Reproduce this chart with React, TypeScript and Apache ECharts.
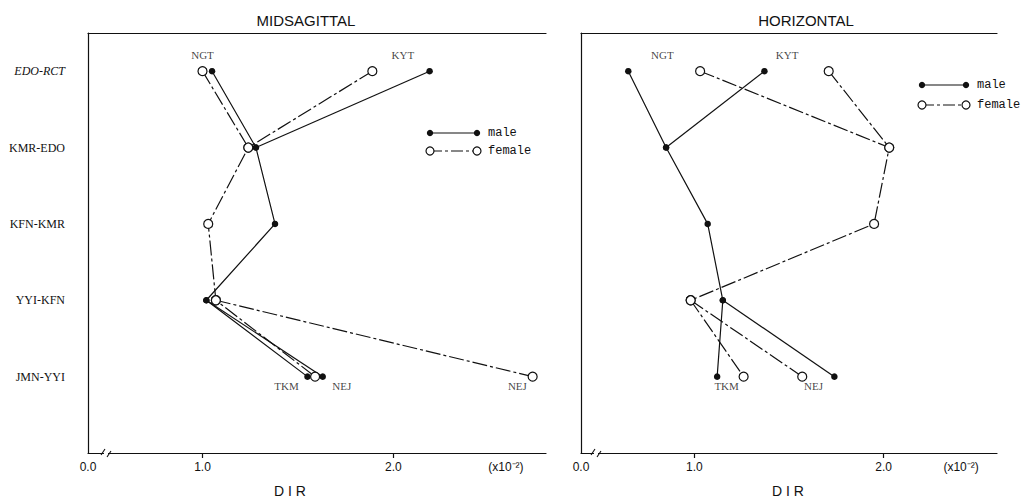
import React, { useEffect, useRef } from "react";
import * as echarts from "echarts";

// Rows (top to bottom) and site groups
const rows = ["EDO-RCT", "KMR-EDO", "KFN-KMR", "YYI-KFN", "JMN-YYI"];
const topSites = ["NGT", "KYT"]; // at EDO-RCT
const bottomSites = ["TKM", "NEJ"]; // at JMN-YYI
const xTicks = [1.0, 2.0];

// MIDSAGITTAL (DIR x10^-2)
const midMaleTop = [1.05, 2.19];
const midMaleCore = [1.28, 1.38, 1.02]; // KMR-EDO, KFN-KMR, YYI-KFN
const midMaleBottom = [1.55, 1.63];
const midFemaleTop = [1.0, 1.89];
const midFemaleCore = [1.24, 1.03, 1.07];
const midFemaleBottom = [1.59, 2.73];

// HORIZONTAL (DIR x10^-2)
const horMaleTop = [0.65, 1.37];
const horMaleCore = [0.85, 1.07, 1.15];
const horMaleBottom = [1.12, 1.74];
const horFemaleTop = [1.03, 1.71];
const horFemaleCore = [2.03, 1.95, 0.98];
const horFemaleBottom = [1.26, 1.57];

const rowY = (i: number) => rows.length - i;

function buildPaths(top: number[], core: number[], bottom: number[]) {
  const corePts = core.map((v, k) => [v, rowY(k + 1)]);
  return [
    [[top[0], rowY(0)], ...corePts, [bottom[0], rowY(4)]],
    [[top[1], rowY(0)], corePts[0]],
    [corePts[corePts.length - 1], [bottom[1], rowY(4)]],
  ];
}

const BLACK = "#111";
const FEMALE_DASH = [15, 3, 3, 3];

function sexSeries(paths: number[][][], female: boolean, axis: number) {
  return paths.map((p) => ({
    type: "line",
    xAxisIndex: axis * 2,
    yAxisIndex: axis,
    data: p,
    symbol: "circle",
    symbolSize: female ? 9 : 6.5,
    showSymbol: true,
    z: female ? 4 : 3,
    itemStyle: female
      ? { color: "#fff", borderColor: BLACK, borderWidth: 1.2 }
      : { color: BLACK, borderColor: BLACK, borderWidth: 0 },
    lineStyle: {
      color: BLACK,
      width: 1.2,
      type: female ? FEMALE_DASH : "solid",
    },
    emphasis: { disabled: true },
  }));
}

// site-label anchors (annotation placement, in axis units)
const topLabelY = 5.21;
const bottomLabelY = 0.88;
const midLabelX = { NGT: 1.0, KYT: 2.05, TKM: 1.44, NEJ: 1.73, NEJ2: 2.65 };
const horLabelX = { NGT: 0.83, KYT: 1.49, TKM: 1.17, NEJ: 1.63 };

function labelSeries(items: { name: string; value: number[] }[], axis: number) {
  return {
    type: "scatter",
    xAxisIndex: axis * 2,
    yAxisIndex: axis,
    symbolSize: 0,
    z: 6,
    data: items,
    label: {
      show: true,
      position: "inside",
      formatter: "{b}",
      color: BLACK,
      fontFamily: "Liberation Serif",
      fontSize: 11,
    },
    emphasis: { disabled: true },
  };
}

const UNIT = "(x10\u207B\u00B2)";

function xAxes(gridIndex: number, max: number, unitAt: number) {
  return [
    {
      type: "value",
      gridIndex,
      min: 0.4,
      max,
      axisLine: { show: true, onZero: false, lineStyle: { color: BLACK, width: 1.2 } },
      axisTick: { show: true, customValues: xTicks, length: 5, lineStyle: { color: BLACK, width: 1.2 } },
      axisLabel: {
        show: true,
        customValues: [0.4, ...xTicks, unitAt],
        formatter: (v: number) => (v < 0.9 ? "0.0" : v > 2.3 ? UNIT : v.toFixed(1)),
        color: BLACK,
        fontFamily: "Liberation Sans",
        fontSize: 12,
        margin: 8,
      },
      splitLine: { show: false },
    },
    {
      type: "value",
      gridIndex,
      position: "top",
      min: 0.4,
      max,
      axisLine: { show: true, onZero: false, lineStyle: { color: BLACK, width: 1.2 } },
      axisTick: { show: false },
      axisLabel: { show: false },
      splitLine: { show: false },
    },
  ];
}

function yAxis(gridIndex: number, withLabels: boolean) {
  return {
    type: "value",
    gridIndex,
    min: 0,
    max: 5.5,
    axisLine: { show: true, onZero: false, lineStyle: { color: BLACK, width: 1.2 } },
    axisTick: { show: false },
    splitLine: { show: false },
    axisLabel: withLabels
      ? {
          show: true,
          customValues: rows.map((_, i) => rowY(i)),
          formatter: (v: number) => {
            const name = rows[rows.length - Math.round(v)];
            return name === "EDO-RCT" ? `{it|${name}}` : name;
          },
          rich: { it: { fontStyle: "italic", fontFamily: "Liberation Serif", fontSize: 12, color: BLACK } },
          color: BLACK,
          fontFamily: "Liberation Serif",
          fontSize: 12,
          margin: 23,
        }
      : { show: false },
  };
}

function legendGraphic(x1: number, x2: number, yMale: number, yFemale: number, textX: number) {
  return [
    { type: "line", z: 10, shape: { x1, y1: yMale, x2, y2: yMale }, style: { stroke: BLACK, lineWidth: 1.2 } },
    { type: "circle", z: 11, shape: { cx: x1, cy: yMale, r: 3.2 }, style: { fill: BLACK } },
    { type: "circle", z: 11, shape: { cx: x2, cy: yMale, r: 3.2 }, style: { fill: BLACK } },
    {
      type: "line",
      z: 10,
      shape: { x1, y1: yFemale, x2, y2: yFemale },
      style: { stroke: BLACK, lineWidth: 1.2, lineDash: [12, 3, 3, 3] },
    },
    { type: "circle", z: 11, shape: { cx: x1, cy: yFemale, r: 4 }, style: { fill: "#fff", stroke: BLACK, lineWidth: 1.2 } },
    { type: "circle", z: 11, shape: { cx: x2, cy: yFemale, r: 4 }, style: { fill: "#fff", stroke: BLACK, lineWidth: 1.2 } },
    {
      type: "text",
      z: 11,
      x: textX,
      y: yMale,
      style: { text: "male", fill: BLACK, fontFamily: "Liberation Mono", fontSize: 12, textAlign: "left", textVerticalAlign: "middle" },
    },
    {
      type: "text",
      z: 11,
      x: textX,
      y: yFemale,
      style: { text: "female", fill: BLACK, fontFamily: "Liberation Mono", fontSize: 12, textAlign: "left", textVerticalAlign: "middle" },
    },
  ];
}

function breakGraphic(xGap: number, yAxisLine: number) {
  return [
    { type: "rect", z: 20, shape: { x: xGap, y: yAxisLine - 3, width: 4, height: 6 }, style: { fill: "#fff" } },
    {
      type: "line",
      z: 21,
      shape: { x1: xGap - 3, y1: yAxisLine + 2, x2: xGap + 1, y2: yAxisLine - 4 },
      style: { stroke: BLACK, lineWidth: 1.1 },
    },
    {
      type: "line",
      z: 21,
      shape: { x1: xGap + 3, y1: yAxisLine + 4, x2: xGap + 7, y2: yAxisLine - 2 },
      style: { stroke: BLACK, lineWidth: 1.1 },
    },
  ];
}

function textG(text: string, x: number, y: number, size: number, family: string) {
  return {
    type: "text",
    z: 11,
    x,
    y,
    style: { text, fill: BLACK, fontFamily: family, fontSize: size, textAlign: "center", textVerticalAlign: "middle" },
  };
}

function buildOption() {
  const midM = buildPaths(midMaleTop, midMaleCore, midMaleBottom);
  const midF = buildPaths(midFemaleTop, midFemaleCore, midFemaleBottom);
  const horM = buildPaths(horMaleTop, horMaleCore, horMaleBottom);
  const horF = buildPaths(horFemaleTop, horFemaleCore, horFemaleBottom);

  const midLabels = [
    { name: topSites[0], value: [midLabelX.NGT, topLabelY] },
    { name: topSites[1], value: [midLabelX.KYT, topLabelY] },
    { name: bottomSites[0], value: [midLabelX.TKM, bottomLabelY] },
    { name: bottomSites[1], value: [midLabelX.NEJ, bottomLabelY] },
    { name: bottomSites[1], value: [midLabelX.NEJ2, bottomLabelY] },
  ];
  const horLabels = [
    { name: topSites[0], value: [horLabelX.NGT, topLabelY] },
    { name: topSites[1], value: [horLabelX.KYT, topLabelY] },
    { name: bottomSites[0], value: [horLabelX.TKM, bottomLabelY] },
    { name: bottomSites[1], value: [horLabelX.NEJ, bottomLabelY] },
  ];

  return {
    animation: false,
    backgroundColor: "#fff",
    grid: [
      { left: 88, top: 33, width: 458, height: 420 },
      { left: 581, top: 33, width: 416, height: 420 },
    ],
    xAxis: [...xAxes(0, 2.8, 2.59), ...xAxes(1, 2.6, 2.41)],
    yAxis: [yAxis(0, true), yAxis(1, false)],
    series: [
      ...sexSeries(midM, false, 0),
      ...sexSeries(midF, true, 0),
      ...sexSeries(horM, false, 1),
      ...sexSeries(horF, true, 1),
      labelSeries(midLabels, 0),
      labelSeries(horLabels, 1),
    ],
    graphic: [
      textG("MIDSAGITTAL", 306, 20, 15, "Liberation Sans"),
      textG("HORIZONTAL", 806, 20, 15, "Liberation Sans"),
      textG("D I R", 290, 491, 14, "Liberation Sans"),
      textG("D I R", 788, 491, 14, "Liberation Sans"),
      ...legendGraphic(430, 477, 133, 151, 488),
      ...legendGraphic(922, 966, 85, 105, 977),
      ...breakGraphic(104, 453),
      ...breakGraphic(594, 453),
    ],
  };
}

export default function App() {
  const ref = useRef<HTMLDivElement>(null);
  useEffect(() => {
    document.body.style.margin = "0";
    const chart = echarts.init(ref.current!, null, { renderer: "svg" });
    chart.setOption(buildOption() as any);
    return () => chart.dispose();
  }, []);
  return <div ref={ref} style={{ width: 1030, height: 500, background: "#fff" }} />;
}
